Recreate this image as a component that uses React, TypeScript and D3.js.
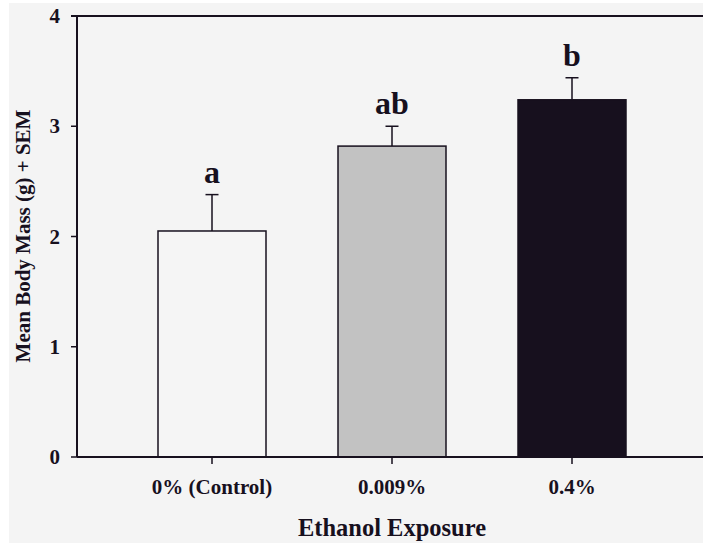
import React from 'react';
import * as d3 from 'd3';

const categories = ['0% (Control)', '0.009%', '0.4%'];
const means = [2.05, 2.82, 3.24];
const sems = [0.33, 0.18, 0.2];
const letters = ['a', 'ab', 'b'];
const fills = ['#f5f5f5', '#c2c2c2', '#17101e'];
const yTicks = [0, 1, 2, 3, 4];

const W = 703;
const H = 543;
const ink = '#17101e';
const font = '"Liberation Serif", "Times New Roman", serif';

export default function App() {
  const x = d3.scaleBand<string>()
    .domain(categories)
    .range([77, 707])
    .paddingInner(0.4)
    .paddingOuter(0.45);

  const y = d3.scaleLinear().domain([0, 4]).range([457, 16]);

  const left = x.range()[0];
  const bottom = y(0);

  return (
    <svg width={W} height={H} style={{ position: 'absolute', left: 0, top: 0 }} fontFamily={font}>
      <rect x={0} y={0} width={W} height={H} fill="#ffffff" />
      <rect x={9} y={3} width={W - 9} height={H - 3} fill="#f4f4f4" />

      {/* bars + error bars */}
      {categories.map((c, i) => {
        const bx = x(c) as number;
        const cx = bx + x.bandwidth() / 2;
        const top = y(means[i]);
        const errTop = y(means[i] + sems[i]);
        return (
          <g key={c}>
            <line x1={cx} x2={cx} y1={top} y2={errTop} stroke={ink} strokeWidth={1.5} />
            <line x1={cx - 6.5} x2={cx + 6.5} y1={errTop} y2={errTop} stroke={ink} strokeWidth={1.5} />
            <rect x={bx} y={top} width={x.bandwidth()} height={bottom - top}
              fill={fills[i]} stroke={ink} strokeWidth={1.5} />
            <text x={cx} y={errTop - 12} textAnchor="middle" fontSize={32} fontWeight="bold" fill={ink}>
              {letters[i]}
            </text>
          </g>
        );
      })}

      {/* frame: left axis, top line, bottom axis */}
      <line x1={left} x2={left} y1={y(4)} y2={bottom} stroke={ink} strokeWidth={2} />
      <line x1={left - 6} x2={W} y1={y(4)} y2={y(4)} stroke={ink} strokeWidth={2} />
      <line x1={left} x2={W} y1={bottom} y2={bottom} stroke={ink} strokeWidth={2} />

      {/* y ticks */}
      {yTicks.map((t) => (
        <g key={t}>
          <line x1={left - 6} x2={left} y1={y(t)} y2={y(t)} stroke={ink} strokeWidth={1.5} />
          <text x={left - 17} y={y(t) + 7} textAnchor="end" fontSize={21} fontWeight="bold" fill={ink}>
            {t}
          </text>
        </g>
      ))}

      {/* x ticks */}
      {categories.map((c) => {
        const cx = (x(c) as number) + x.bandwidth() / 2;
        return (
          <g key={c}>
            <line x1={cx} x2={cx} y1={bottom} y2={bottom + 7} stroke={ink} strokeWidth={1.5} />
            <text x={cx} y={bottom + 37} textAnchor="middle" fontSize={21} fontWeight="bold" fill={ink}>
              {c}
            </text>
          </g>
        );
      })}

      {/* axis titles */}
      <text x={392} y={536} textAnchor="middle" fontSize={24.5} fontWeight="bold" fill={ink}>
        Ethanol Exposure
      </text>
      <text transform={`translate(30,236) rotate(-90)`} textAnchor="middle" fontSize={21} fontWeight="bold" fill={ink}>
        Mean Body Mass (g) + SEM
      </text>
    </svg>
  );
}
